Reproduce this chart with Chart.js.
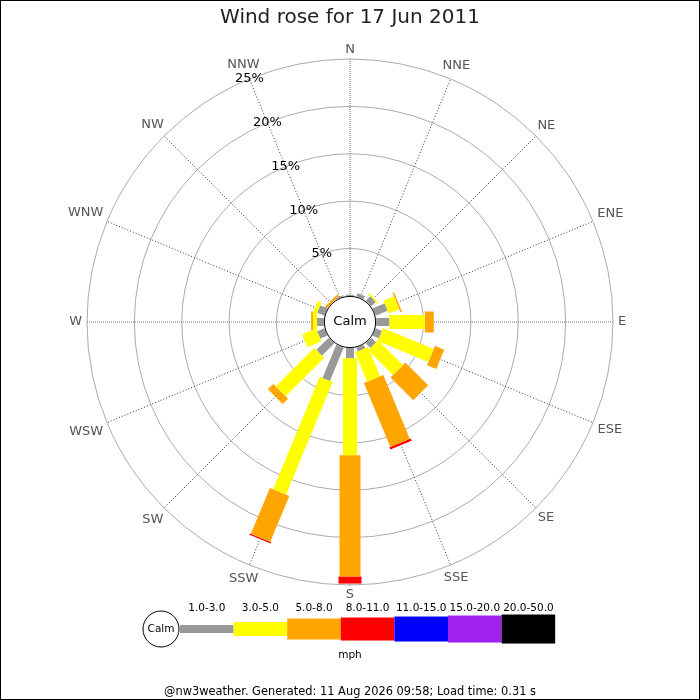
<!DOCTYPE html>
<html lang="en">
<head>
    <meta charset="UTF-8">
    <title>Wind rose for 17 Jun 2011</title>
    <script src="https://cdn.jsdelivr.net/npm/chart.js@4.4.0/dist/chart.umd.min.js"></script>
    <style>
        html, body { margin: 0; padding: 0; background: #fff; }
        .frame { width: 698px; height: 698px; border: 1px solid #000; }
    </style>
</head>
<body>
    <div class="frame"><canvas id="rose"></canvas></div>

    <script>
        // Directions and speed classes (mph)
        const directions = ['N', 'NNE', 'NE', 'ENE', 'E', 'ESE', 'SE', 'SSE', 'S', 'SSW', 'SW', 'WSW', 'W', 'WNW', 'NW', 'NNW'];
        const speedClasses = ['1.0-3.0', '3.0-5.0', '5.0-8.0', '8.0-11.0', '11.0-15.0', '15.0-20.0', '20.0-50.0'];

        // Percent of the day in each class, per direction
        const pct1to3   = [0.12, 0.35, 0.66, 1.35, 1.38, 0.70, 0.70, 0.40, 1.05, 3.80, 1.82, 0.80, 0.72, 0.80, 0, 0.12];
        const pct3to5   = [0, 0, 0.16, 1.21, 3.76, 5.80, 3.70, 3.35, 10.25, 12.85, 5.77, 1.60, 0.42, 0.45, 0, 0];
        const pct5to8   = [0, 0, 0, 0.16, 0.94, 1.05, 3.40, 7.30, 12.80, 5.25, 0.80, 0, 0.20, 0, 0.25, 0];
        const pct8to11  = [0, 0, 0, 0, 0, 0, 0, 0.25, 0.75, 0.15, 0, 0, 0, 0, 0, 0];
        const pct11to15 = [0, 0, 0, 0, 0, 0, 0, 0, 0, 0, 0, 0, 0, 0, 0, 0];
        const pct15to20 = [0, 0, 0, 0, 0, 0, 0, 0, 0, 0, 0, 0, 0, 0, 0, 0];
        const pct20to50 = [0, 0, 0, 0, 0, 0, 0, 0, 0, 0, 0, 0, 0, 0, 0, 0];

        // Radial axis ticks
        const tickValues = [5, 10, 15, 20, 25];
        const tickLabels = ['5%', '10%', '15%', '20%', '25%'];

        // Styles
        const classColors = ['#999999', '#ffff00', '#ffa500', '#ff0000', '#0000ff', '#a020f0', '#000000'];
        const classWidths = [8, 14, 21, 23, 25, 27, 29];

        // Stack the classes: each dataset runs from the previous total to the new total
        const series = [pct1to3, pct3to5, pct5to8, pct8to11, pct11to15, pct15to20, pct20to50];
        let running = directions.map(() => 0);
        const datasets = series.map((vals, k) => {
            const base = running.slice();
            running = running.map((v, i) => v + vals[i]);
            return {
                label: speedClasses[k],
                data: running.slice(),
                base: base,
                backgroundColor: classColors[k],
                barWidth: classWidths[k]
            };
        });

        // Polar area controller that draws straight bars instead of wedges
        class WindRoseController extends Chart.PolarAreaController {
            draw() {
                const meta = this._cachedMeta;
                const scale = meta.rScale;
                const ds = this.getDataset();
                const ctx = this.chart.ctx;
                ctx.save();
                ctx.fillStyle = ds.backgroundColor;
                meta.data.forEach((arc, i) => {
                    const r0 = scale.getDistanceFromCenterForValue(ds.base[i]);
                    const r1 = arc.outerRadius;
                    if (r1 - r0 < 0.05) return;
                    const a = scale.getIndexAngle(i) - Math.PI / 2;
                    ctx.save();
                    ctx.translate(scale.xCenter, scale.yCenter);
                    ctx.rotate(a);
                    ctx.fillRect(r0, -ds.barWidth / 2, r1 - r0, ds.barWidth);
                    ctx.restore();
                });
                ctx.restore();
            }
        }
        WindRoseController.id = 'windRose';
        WindRoseController.defaults = Chart.PolarAreaController.defaults;
        WindRoseController.overrides = Chart.PolarAreaController.overrides;
        Chart.register(WindRoseController);

        // Direction names, calm circle, percent labels and the speed legend
        const roseDecor = {
            id: 'roseDecor',
            afterDatasetsDraw(chart) {
                const scale = chart.scales.r;
                const ctx = chart.ctx;
                const R = scale.getDistanceFromCenterForValue(scale.max);
                const rCalm = scale.getDistanceFromCenterForValue(0);
                ctx.save();
                ctx.textAlign = 'center';
                ctx.textBaseline = 'middle';

                // direction names, centred just clear of the outer ring
                ctx.font = '13px "DejaVu Sans"';
                ctx.fillStyle = '#555555';
                directions.forEach((d, i) => {
                    const t = scale.getIndexAngle(i);
                    const w = ctx.measureText(d).width;
                    const dist = R + 5 + Math.abs(Math.sin(t)) * w / 2 + Math.abs(Math.cos(t)) * 4.75;
                    const p = scale.getPointPosition(i, dist);
                    ctx.fillText(d, p.x, p.y);
                });

                ctx.beginPath();
                ctx.arc(scale.xCenter, scale.yCenter, rCalm - 0.5, 0, 2 * Math.PI);
                ctx.fillStyle = '#fff';
                ctx.fill();
                ctx.strokeStyle = '#000';
                ctx.lineWidth = 1;
                ctx.stroke();
                ctx.fillStyle = '#000';
                ctx.fillText('Calm', scale.xCenter, scale.yCenter);

                // percent labels sit on the NNW spoke
                tickValues.forEach((v, i) => {
                    const p = scale.getPointPosition(15, scale.getDistanceFromCenterForValue(v));
                    ctx.fillText(tickLabels[i], p.x, p.y);
                });
                ctx.restore();
            },
            afterDraw(chart) {
                const ctx = chart.ctx;
                const y = chart.chartArea.bottom + 43;
                const segW = 53.6;
                const x0 = chart.width / 2 - 170;
                ctx.save();
                classColors.forEach((c, k) => {
                    ctx.fillStyle = c;
                    ctx.fillRect(x0 + k * segW, y - classWidths[k] / 2, segW, classWidths[k]);
                });
                ctx.fillStyle = '#000';
                ctx.font = '10.5px "DejaVu Sans"';
                ctx.textAlign = 'center';
                ctx.textBaseline = 'middle';
                speedClasses.forEach((s, k) => {
                    ctx.fillText(s, x0 + (k + 0.5) * segW, y - 21);
                });
                ctx.fillText('mph', chart.width / 2, y + 26);
                // calm marker
                ctx.beginPath();
                ctx.arc(x0 - 19, y, 18, 0, 2 * Math.PI);
                ctx.fillStyle = '#fff';
                ctx.fill();
                ctx.strokeStyle = '#000';
                ctx.lineWidth = 1;
                ctx.stroke();
                ctx.fillStyle = '#000';
                ctx.fillText('Calm', x0 - 19, y);
                ctx.restore();
            }
        };

        Chart.defaults.font.family = '"DejaVu Sans"';

        new Chart(document.getElementById('rose'), {
            type: 'windRose',
            data: {
                labels: directions,
                datasets: datasets
            },
            options: {
                responsive: true,
                maintainAspectRatio: false,
                animation: false,
                layout: { padding: 0 },
                scales: {
                    r: {
                        type: 'radialLinear',
                        min: -2.76,
                        max: 25,
                        startAngle: 0,
                        beginAtZero: false,
                        ticks: { display: false, stepSize: 5 },
                        grid: {
                            circular: true,
                            lineWidth: 1,
                            color: ctx => ctx.tick && ctx.tick.value > 0 ? '#aaaaaa' : 'rgba(0,0,0,0)'
                        },
                        angleLines: {
                            display: true,
                            lineWidth: 1,
                            color: ctx => ctx.index % 4 === 0 ? '#777777' : '#333333',
                            borderDash: ctx => ctx.index % 4 === 0 ? [1, 1] : [1, 2]
                        },
                        pointLabels: { display: false }
                    }
                },
                plugins: {
                    legend: { display: false },
                    tooltip: { enabled: false },
                    title: {
                        display: true,
                        text: 'Wind rose for 17 Jun 2011',
                        color: '#222222',
                        font: { size: 20, weight: 'normal' },
                        padding: { top: 5, bottom: 29.5 }
                    },
                    subtitle: {
                        display: true,
                        position: 'bottom',
                        text: '@nw3weather. Generated: 11 Aug 2026 09:58; Load time: 0.31 s',
                        color: '#000000',
                        font: { size: 11.4 },
                        padding: { top: 99.3, bottom: 0 }
                    }
                }
            },
            plugins: [roseDecor]
        });
    </script>
